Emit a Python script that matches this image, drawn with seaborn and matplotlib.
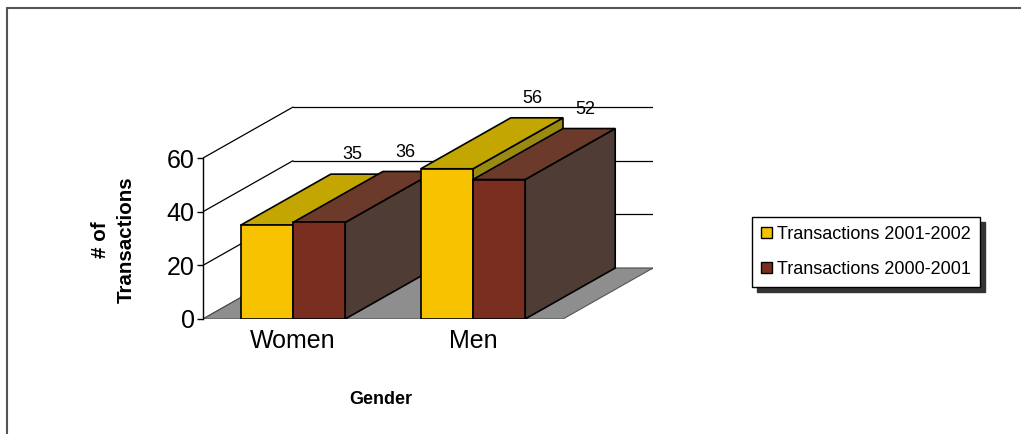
import numpy as np
import pandas as pd
import matplotlib
matplotlib.use("Agg")
import matplotlib.pyplot as plt
import seaborn as sns
from matplotlib.patches import Polygon, Patch
from matplotlib.lines import Line2D

# ---- data ----
genders = ["Women", "Men"]
periods = ["Transactions 2001-2002", "Transactions 2000-2001"]
values_2001_2002 = [35, 56]
values_2000_2001 = [36, 52]
y_ticks = [0, 20, 40, 60]
x_label = "Gender"
y_label = "# of\nTransactions"

df = pd.DataFrame({
    "Gender": genders * 2,
    "Period": [periods[0]] * len(genders) + [periods[1]] * len(genders),
    "Transactions": values_2001_2002 + values_2000_2001,
})

sns.set_theme(style="white")
plt.rcParams["font.family"] = ["Liberation Sans", "DejaVu Sans"]

front_colors = {periods[0]: "#F7C200", periods[1]: "#7A2E1F"}
top_colors = {periods[0]: "#C4A600", periods[1]: "#6C3A2B"}
side_colors = {periods[0]: "#9A8A12", periods[1]: "#4E3C35"}

W, H = 1021, 434
fig = plt.figure(figsize=(W / 100, H / 100), dpi=100)
ax = fig.add_axes([203 / W, 1 - 319 / H, 450 / W, 213 / H])

sns.barplot(data=df, x="Gender", y="Transactions", hue="Period",
            order=genders, hue_order=periods, palette=front_colors,
            saturation=1, width=0.58, edgecolor="black", linewidth=1.2,
            legend=False, ax=ax)

DX, DY = 0.5, 19.0
ax.set_xlim(-0.5, 2.0)
ax.set_ylim(0, 79.4)

# back wall grid and side-wall diagonals
for v in y_ticks:
    ax.plot([-0.5 + DX, 1.5 + DX], [v + DY, v + DY], color="black", lw=0.9, zorder=0.5)
    ax.plot([-0.5, -0.5 + DX], [v, v + DY], color="black", lw=0.9, zorder=0.5)

# floor
ax.add_patch(Polygon([(-0.5, 0), (1.5, 0), (1.5 + DX, DY), (-0.5 + DX, DY)],
                     closed=True, facecolor="#8E8E8E", edgecolor="#555555",
                     lw=0.8, zorder=1))

# 3D faces for bars
bars = []
for cont, per in zip(ax.containers, periods):
    for rect in cont:
        bars.append((rect.get_x(), rect.get_width(), rect.get_height(), per, rect))
bars.sort(key=lambda b: b[0])

for i, (x0, w, h, per, rect) in enumerate(bars):
    base = 3 + i
    x1 = x0 + w
    side = Polygon([(x1, 0), (x1 + DX, DY), (x1 + DX, h + DY), (x1, h)], closed=True,
                   facecolor=side_colors[per], edgecolor="black", lw=1.2, zorder=base)
    top = Polygon([(x0, h), (x1, h), (x1 + DX, h + DY), (x0 + DX, h + DY)], closed=True,
                  facecolor=top_colors[per], edgecolor="black", lw=1.2, zorder=base + 0.1)
    ax.add_patch(side)
    ax.add_patch(top)
    rect.set_zorder(base + 0.2)
    ax.annotate(f"{h:.0f}", xy=(x0 + w / 2 + DX, h + DY), xytext=(-3, 14),
                textcoords="offset points", ha="center", va="center",
                fontsize=13, color="black", zorder=20)

# axes styling
for s in ["top", "right", "bottom"]:
    ax.spines[s].set_visible(False)
ax.spines["left"].set_bounds(0, 60)
ax.spines["left"].set_color("black")
ax.spines["left"].set_linewidth(1.0)
ax.set_yticks(y_ticks)
ax.tick_params(axis="y", left=True, length=4, width=1, direction="out",
               labelsize=18, pad=2, colors="black")
ax.set_xticks(range(len(genders)))
ax.set_xticklabels(genders)
ax.tick_params(axis="x", bottom=False, length=0, labelsize=18, pad=7, colors="black")

ax.set_xlabel(x_label, fontsize=13, fontweight="bold", color="black")
ax.xaxis.label.set_va("center")
ax.xaxis.set_label_coords(0.395, -0.38)
ax.set_ylabel(y_label, fontsize=14.8, fontweight="bold", color="black",
              multialignment="center", linespacing=1.45)
ax.yaxis.label.set_va("center")
ax.yaxis.set_label_coords(-0.2, 0.371)
ax.patch.set_alpha(0)

# legend
handles = [Patch(facecolor=front_colors[p], edgecolor="black", lw=1) for p in periods]
leg = fig.legend(handles, periods, loc="upper left",
                 bbox_to_anchor=(752 / W, 1 - 217 / H), bbox_transform=fig.transFigure,
                 frameon=True, fancybox=False,
                 shadow={"ox": 3.5, "oy": -3.5, "color": "#333333", "alpha": 1},
                 fontsize=13, handlelength=0.6, handleheight=0.6, handletextpad=0.3,
                 labelspacing=1.0, borderpad=0.5, borderaxespad=0, framealpha=1)
leg.get_frame().set_edgecolor("black")
leg.get_frame().set_linewidth(1.0)
for t in leg.get_texts():
    t.set_color("black")

# outer frame
fig.add_artist(Line2D([7 / W, 7 / W], [0, 1 - 8 / H], transform=fig.transFigure,
                      color="#555555", lw=1.5))
fig.add_artist(Line2D([7 / W, 1], [1 - 8 / H, 1 - 8 / H], transform=fig.transFigure,
                      color="#555555", lw=1.5))

fig.savefig("out.png", dpi=100)
